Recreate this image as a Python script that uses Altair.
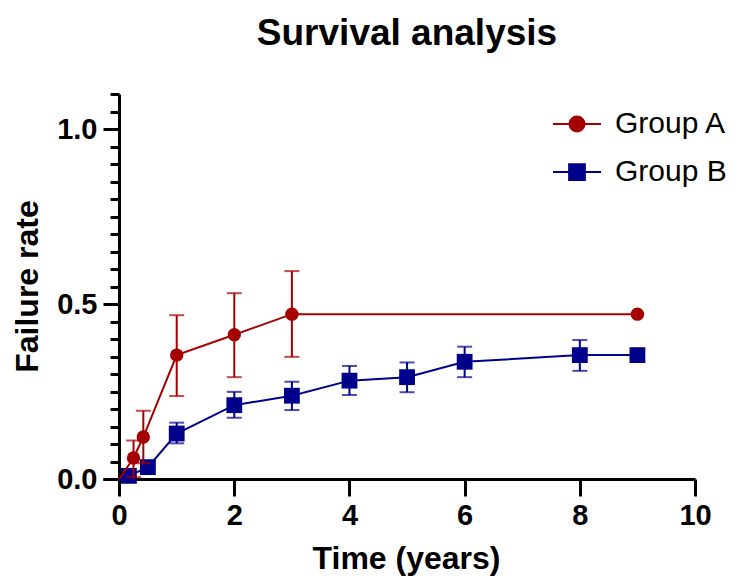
import altair as alt
import pandas as pd

groups = ["Group A", "Group B"]
colors = ["#a50000", "#00008b"]

# Group A
a_time = [0, 0.25, 0.42, 1, 2, 3, 9]
a_rate = [0, 0.06, 0.12, 0.354, 0.412, 0.471, 0.471]
a_lo = [None, 0.005, 0.045, 0.237, 0.291, 0.349, None]
a_hi = [None, 0.11, 0.195, 0.468, 0.531, 0.594, None]
a_marker = [False, True, True, True, True, True, True]

# Group B
b_time = [0, 0.17, 0.5, 1, 2, 3, 4, 5, 6, 8, 9]
b_rate = [0, 0.009, 0.034, 0.13, 0.211, 0.238, 0.281, 0.291, 0.335, 0.354, 0.354]
b_lo = [None, None, None, 0.102, 0.175, 0.197, 0.24, 0.248, 0.291, 0.309, None]
b_hi = [None, None, None, 0.161, 0.249, 0.278, 0.323, 0.333, 0.378, 0.397, None]
b_marker = [False, True, True, True, True, True, True, True, True, True, True]

x_ticks = [0, 2, 4, 6, 8, 10]
y_ticks = [0, 0.05, 0.1, 0.15, 0.2, 0.25, 0.3, 0.35, 0.4, 0.45, 0.5, 0.55,
           0.6, 0.65, 0.7, 0.75, 0.8, 0.85, 0.9, 0.95, 1.0, 1.05, 1.1]

FONT = "Liberation Sans"

def frame(g, t, r, lo, hi, m):
    return pd.DataFrame({"group": g, "time": t, "rate": r, "lo": lo, "hi": hi, "marker": m})

df_a = frame("Group A", a_time, a_rate, a_lo, a_hi, a_marker)
df_b = frame("Group B", b_time, b_rate, b_lo, b_hi, b_marker)
df_all = pd.concat([df_a, df_b], ignore_index=True)

xscale = alt.Scale(domain=[-0.28, 10], nice=False, zero=False)
yscale = alt.Scale(domain=[-0.0314, 1.1], nice=False, zero=False)

major = "abs(datum.value*2 - round(datum.value*2)) < 0.001"

x_axis = alt.Axis(
    values=x_ticks, tickCount=50, format="d", offset=-11, grid=False,
    domainColor="black", domainWidth=3, tickColor="black", tickWidth=3, tickSize=17,
    labelFont=FONT, labelFontSize=29, labelFontWeight="bold", labelColor="black",
    labelPadding=5, labelFlush=False, labelOverlap=False,
    title="Time (years)", titleFont=FONT, titleFontSize=32, titleFontWeight="bold",
    titleColor="black", titlePadding=13, titleX=303,
)
y_axis = alt.Axis(
    values=y_ticks, tickCount=50, offset=-16, grid=False,
    domainColor="black", domainWidth=3, tickColor="black", tickWidth=3,
    tickSize={"condition": {"test": major, "value": 16}, "value": 9},
    labelExpr=major + " ? format(datum.value, '.1f') : ''",
    labelFont=FONT, labelFontSize=29, labelFontWeight="bold", labelColor="black",
    labelPadding=6, labelFlush=False, labelOverlap=False,
    title="Failure rate", titleFont=FONT, titleFontSize=32, titleFontWeight="bold",
    titleColor="black", titlePadding=12, titleY=192,
)

def group_layers(df, color, shape, size):
    base = alt.Chart(df)
    line = base.mark_line(color=color, strokeWidth=2).encode(
        x=alt.X("time:Q", scale=xscale, axis=x_axis),
        y=alt.Y("rate:Q", scale=yscale, axis=y_axis),
    )
    eb = base.transform_filter("isValid(datum.lo)")
    stem = eb.mark_rule(color=color, strokeWidth=2).encode(
        x="time:Q", y="lo:Q", y2="hi:Q")
    cap_lo = eb.mark_tick(color=color, orient="horizontal", size=15, thickness=2).encode(
        x="time:Q", y="lo:Q")
    cap_hi = eb.mark_tick(color=color, orient="horizontal", size=15, thickness=2).encode(
        x="time:Q", y="hi:Q")
    pts = base.transform_filter("datum.marker").mark_point(
        filled=True, opacity=1, color=color, shape=shape, size=size, strokeWidth=0).encode(
        x="time:Q", y="rate:Q")
    return [line, stem, cap_lo, cap_hi, pts]

legend_paths = [
    "M-3.2,0H3.2M-1,0A1,1,0,1,1,1,0A1,1,0,1,1,-1,0Z",
    "M-3.2,0H3.2M-1.05,-1.05H1.05V1.05H-1.05Z",
]

leg = alt.Legend(
    orient="none", legendX=459, legendY=15, title=None,
    symbolSize=225, symbolStrokeWidth=2, symbolOpacity=1,
    labelFont=FONT, labelFontSize=30, labelColor="black", labelOffset=23,
    rowPadding=18,
)

legend_layer = alt.Chart(df_all).transform_filter("false").mark_point(
    filled=True, opacity=1, strokeWidth=2).encode(
    x="time:Q", y="rate:Q",
    shape=alt.Shape("group:N", scale=alt.Scale(domain=groups, range=legend_paths), legend=leg),
    color=alt.Color("group:N", scale=alt.Scale(domain=groups, range=colors), legend=leg),
    stroke=alt.Stroke("group:N", scale=alt.Scale(domain=groups, range=colors), legend=leg),
)

layers = group_layers(df_b, colors[1], "square", 250) + group_layers(df_a, colors[0], "circle", 180) + [legend_layer]

chart = alt.layer(*layers).properties(
    width=592, height=396,
    title=alt.Title("Survival analysis", font=FONT, fontSize=37, fontWeight="bold",
                    color="black", anchor="middle", offset=27, dx=8),
    autosize=alt.AutoSizeParams(type="none"),
    padding={"left": 103, "top": 94, "right": 40, "bottom": 90},
    background="white",
).configure_view(stroke=None)

chart.save("out.html", embed_options={"renderer": "svg", "actions": False})
